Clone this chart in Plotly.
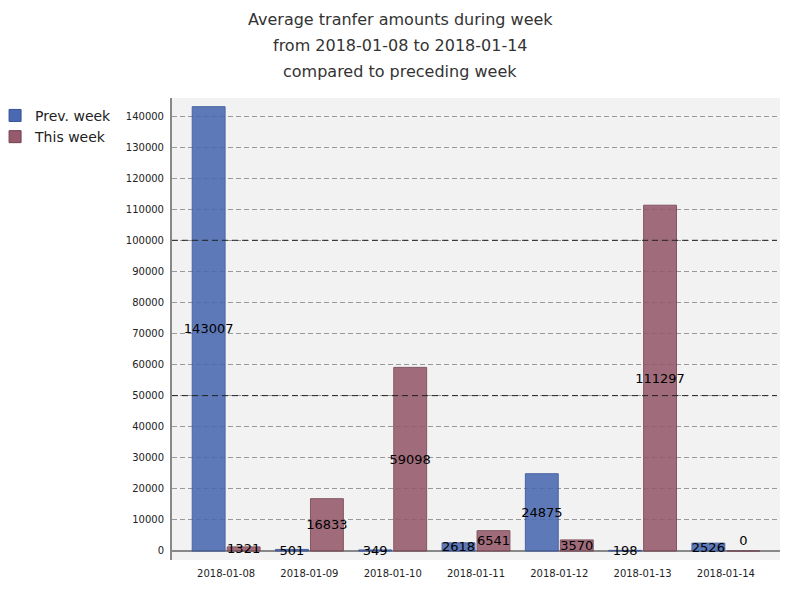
"""
Average transfer amounts, this week vs preceding week
"""
import plotly.graph_objs as go

days = ['2018-01-08', '2018-01-09', '2018-01-10', '2018-01-11',
        '2018-01-12', '2018-01-13', '2018-01-14']
prev_week = [143007, 501, 349, 2618, 24875, 198, 2526]
this_week = [1321, 16833, 59098, 6541, 3570, 111297, 0]
title_lines = ['Average tranfer amounts during week',
               'from 2018-01-08 to 2018-01-14',
               'compared to preceding week']
y_ticks = list(range(0, 140001, 10000))
strong_lines = [50000, 100000]

FONT = 'DejaVu Sans'
DASH = '5px,3px'

fig = go.Figure()

# Two series, value label centred in every bar
# (zero-height bars only show text when it is 'outside')
for name, values, fill, edge in [
    ('Prev. week', prev_week, '#4a69b0', '#34519a'),
    ('This week', this_week, '#955a6b', '#74404f'),
]:
    fig.add_trace(go.Bar(
        x=days,
        y=values,
        name=name,
        marker={'color': fill, 'line': {'color': edge, 'width': 1},
                'opacity': 0.88},
        text=[str(v) for v in values],
        textposition=['inside' if v else 'outside' for v in values],
        insidetextanchor='middle',
        constraintext='none',
        textangle=0,
        textfont={'family': FONT, 'size': 13, 'color': 'black'},
        cliponaxis=False,
    ))

# Darker dashed lines at the major values, drawn over the bars
for value in strong_lines:
    fig.add_shape(type='line', xref='paper', x0=0, x1=0.995,
                  y0=value, y1=value, layer='above',
                  line={'color': '#222', 'width': 1, 'dash': '6px,4px'})

# Title as three centred lines
for i, line in enumerate(title_lines):
    fig.add_annotation(text=line, xref='paper', yref='paper',
                       x=0.375, y=1.169 - i * 0.0563, showarrow=False,
                       xanchor='center', yanchor='middle',
                       font={'family': FONT, 'size': 16, 'color': '#333'})

# page body adds an 8px offset, so the figure is 8px smaller
fig.update_layout(
    width=792,
    height=592,
    margin={'l': 164, 'r': 20, 't': 90, 'b': 40, 'autoexpand': False},
    paper_bgcolor='white',
    plot_bgcolor='#f2f2f2',
    font={'family': FONT, 'size': 10, 'color': '#222'},
    barmode='group',
    bargap=0.16,
    bargroupgap=0.06,
    showlegend=True,
    legend={'x': -0.291, 'y': 0.996, 'xanchor': 'left', 'yanchor': 'top',
            'font': {'family': FONT, 'size': 14, 'color': '#222'},
            'bgcolor': 'rgba(0,0,0,0)', 'itemwidth': 30,
            'tracegroupgap': 0},
    xaxis={'type': 'category', 'range': [-0.65, 6.65], 'showgrid': False,
           'showline': False, 'ticks': '', 'tickfont': {'size': 10},
           'ticklabelstandoff': 6, 'automargin': False},
    yaxis={'range': [-2900, 145800], 'tickvals': y_ticks, 'tickformat': 'd',
           'showgrid': True, 'gridcolor': '#999', 'griddash': DASH,
           'gridwidth': 1, 'zeroline': True, 'zerolinecolor': '#888',
           'zerolinewidth': 2, 'showline': True, 'linecolor': '#888',
           'linewidth': 2, 'ticks': '', 'tickfont': {'size': 10},
           'ticklabelstandoff': 4, 'automargin': False},
)

fig.write_html('out.html')
